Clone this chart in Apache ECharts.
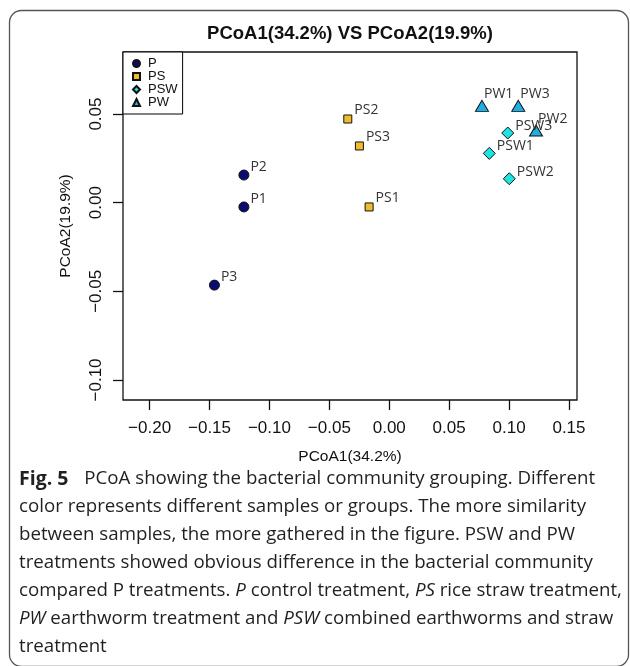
<!DOCTYPE html>
<html>
<head>
<meta charset="utf-8">
<title>PCoA</title>
<script src="https://cdn.jsdelivr.net/npm/echarts@6/dist/echarts.min.js"></script>
<style>
  html, body { margin: 0; padding: 0; background: #fff; }
  #chart { width: 630px; height: 666px; }
</style>
</head>
<body>
<div id="chart"></div>
<script>
// sample coordinates (PCoA1, PCoA2)
const pNames = ['P1', 'P2', 'P3']
const pX = [-0.1213, -0.1213, -0.1459]
const pY = [-0.0024, 0.0156, -0.0465]

const psNames = ['PS1', 'PS2', 'PS3']
const psX = [-0.0168, -0.0346, -0.0249]
const psY = [-0.0024, 0.0472, 0.0320]

const pswNames = ['PSW1', 'PSW2', 'PSW3']
const pswX = [0.0835, 0.1002, 0.0989]
const pswY = [0.0278, 0.0135, 0.0393]

const pwNames = ['PW1', 'PW2', 'PW3']
const pwX = [0.0774, 0.1225, 0.1077]
const pwY = [0.0546, 0.0407, 0.0546]

// axis ticks
const xTicks = [-0.20, -0.15, -0.10, -0.05, 0.00, 0.05, 0.10, 0.15]
const yTicks = [-0.10, -0.05, 0.00, 0.05]

const captionLines = [
  '{b|Fig. 5} PCoA showing the bacterial community grouping. Different',
  'color represents different samples or groups. The more similarity',
  'between samples, the more gathered in the figure. PSW and PW',
  'treatments showed obvious difference in the bacterial community',
  'compared P treatments. {i|P} control treatment, {i|PS} rice straw treatment,',
  '{i|PW} earthworm treatment and {i|PSW} combined earthworms and straw',
  'treatment'
]

const toPoints = (names, xs, ys) => names.map((n, i) => ({ name: n, value: [xs[i], ys[i]] }))

const fmtTick = (v) => {
  const s = Math.abs(v).toFixed(2)
  return v < -1e-9 ? '\u2212' + s : s
}

const labelStyle = (offset) => ({
  show: true,
  position: 'right',
  distance: 1,
  offset: offset,
  formatter: '{b}',
  color: '#333',
  fontFamily: 'Open Sans',
  fontSize: 14
})

const makeSeries = (name, data, symbol, size, color, offset) => ({
  name: name,
  type: 'scatter',
  data: data,
  symbol: symbol,
  symbolSize: size,
  itemStyle: { color: color, borderColor: '#111', borderWidth: 1, opacity: 1 },
  label: labelStyle(offset),
  emphasis: { disabled: true }
})

const chart = echarts.init(document.getElementById('chart'))

// caption font
const capFont = 'Open Sans'
const capSize = 18.7

const captionGraphics = captionLines.map((line, i) => ({
  type: 'text',
  left: 19,
  top: 482 + i * 28 - 13,
  style: {
    text: line,
    fill: '#231f20',
    font: capSize + 'px "' + capFont + '"',
    rich: {
      b: { fontFamily: capFont, fontWeight: 'bold', fontSize: 19.5, fill: '#231f20', padding: [0, 11, 0, 0] },
      i: { fontFamily: capFont, fontStyle: 'italic', fontSize: capSize, fill: '#231f20' }
    }
  }
}))

const option = {
  animation: false,
  backgroundColor: '#fff',
  title: {
    text: 'PCoA1(34.2%) VS PCoA2(19.9%)',
    left: 350,
    top: 24,
    padding: 0,
    textAlign: 'center',
    textStyle: {
      fontFamily: 'Liberation Sans',
      fontWeight: 'bold',
      fontSize: 18.5,
      color: '#111'
    }
  },
  legend: {
    orient: 'vertical',
    left: 123,
    top: 52,
    padding: [5, 5, 5, 9],
    itemGap: 0,
    itemWidth: 7,
    itemHeight: 7,
    borderColor: '#000',
    borderWidth: 1,
    backgroundColor: '#fff',
    textStyle: {
      fontFamily: 'Liberation Sans',
      fontSize: 13,
      lineHeight: 12.7,
      color: '#111',
      padding: [0, 0, 0, 3]
    },
    data: ['P', 'PS', 'PSW', 'PW']
  },
  grid: {
    left: 123,
    top: 52,
    right: 53,
    bottom: 266,
    show: true,
    borderColor: '#111',
    borderWidth: 1.3,
    containLabel: false
  },
  xAxis: {
    type: 'value',
    min: -0.2222,
    max: 0.1567,
    name: 'PCoA1(34.2%)',
    nameLocation: 'middle',
    nameGap: 49,
    nameTextStyle: { fontFamily: 'Liberation Sans', fontSize: 15.5, color: '#111' },
    axisLine: { show: false, onZero: false },
    splitLine: { show: false },
    axisTick: {
      show: true,
      length: 10,
      customValues: xTicks,
      lineStyle: { color: '#111', width: 1.3 }
    },
    axisLabel: {
      customValues: xTicks,
      margin: 20,
      formatter: fmtTick,
      fontFamily: 'Liberation Sans',
      fontSize: 17,
      color: '#111'
    }
  },
  yAxis: {
    type: 'value',
    min: -0.1113,
    max: 0.085,
    name: 'PCoA2(19.9%)',
    nameLocation: 'middle',
    nameGap: 49,
    nameRotate: 90,
    nameTextStyle: { fontFamily: 'Liberation Sans', fontSize: 15.5, color: '#111' },
    axisLine: { show: false, onZero: false },
    splitLine: { show: false },
    axisTick: {
      show: true,
      length: 10,
      customValues: yTicks,
      lineStyle: { color: '#111', width: 1.3 }
    },
    axisLabel: {
      customValues: yTicks,
      margin: 18,
      rotate: 90,
      formatter: fmtTick,
      fontFamily: 'Liberation Sans',
      fontSize: 17,
      color: '#111'
    }
  },
  series: [
    makeSeries('P', toPoints(pNames, pX, pY), 'circle', 10, '#0c0c6e', [0, -8]),
    makeSeries('PS', toPoints(psNames, psX, psY), 'rect', 8, '#f0bc2a', [1, -8.5]),
    makeSeries('PSW', toPoints(pswNames, pswX, pswY), 'diamond', 12, '#1de3e3', [0, -7]),
    makeSeries('PW', toPoints(pwNames, pwX, pwY), 'triangle', [13, 11], '#1fafe3', [-6, -12])
  ],
  graphic: [
    {
      type: 'rect',
      shape: { x: 9.5, y: 10.5, width: 619, height: 656, r: 12 },
      style: { fill: 'none', stroke: '#555', lineWidth: 1.3 },
      silent: true,
      z: -1
    },
    ...captionGraphics
  ]
}

chart.setOption(option)
</script>
</body>
</html>
